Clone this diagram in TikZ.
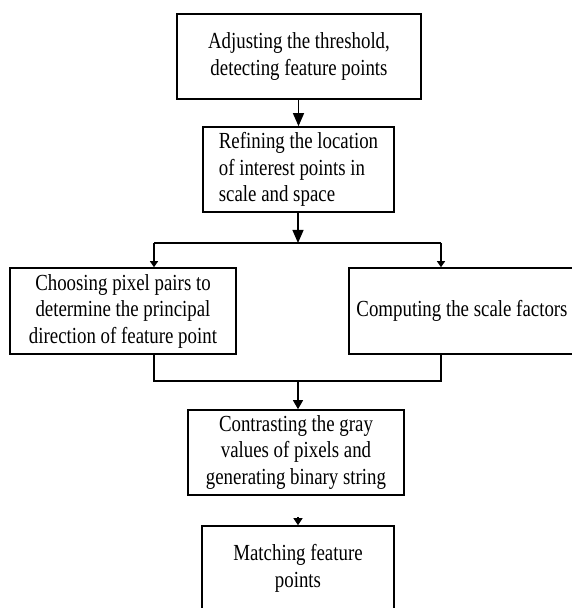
\documentclass[tikz,border=0pt]{standalone}
\usepackage{fontspec}
\setmainfont{Liberation Serif}[FakeStretch=0.82]
\usetikzlibrary{arrows.meta}

\begin{document}
\begin{tikzpicture}[x=1pt, y=1pt,
    box/.style={draw, line width=1.6pt, inner sep=0pt, align=center, font=\fontsize{23}{26.5}\selectfont},
    bigarr/.style={-{Triangle[width=11pt, length=13pt]}, line width=1.2pt},
    midarr/.style={-{Triangle[width=10pt, length=9pt]}, line width=1.2pt},
    smallarr/.style={-{Triangle[width=8pt, length=6pt]}, line width=1.2pt}]
    \useasboundingbox (0,0) rectangle (571,608);
    \node[box, minimum width=244pt, minimum height=85pt] (adjust) at (299,551.5) {Adjusting the threshold,\\detecting feature points};
    \node[box, align=left, minimum width=191pt, minimum height=85pt] (refine) at (298.5,438.5) {Refining the location\\of interest points in\\scale and space};
    \node[box, minimum width=226pt, minimum height=86pt] (choose) at (123,297) {Choosing pixel pairs to\\determine the principal\\direction of feature point};
    \node[box, minimum width=226pt, minimum height=86pt] (compute) at (462,297) {Computing the scale factors};
    \node[box, minimum width=216pt, minimum height=85pt] (contrast) at (296,155.5) {Contrasting the gray\\values of pixels and\\generating binary string};
    \node[box, minimum width=192pt, minimum height=85pt] (match) at (298,39.5) {Matching feature\\points};
    \coordinate (split) at (298,365);
    \coordinate (splitL) at (154,365);
    \coordinate (splitR) at (441,365);
    \coordinate (join) at (298,227);
    \coordinate (joinL) at (154,227);
    \coordinate (joinR) at (441,227);
    \draw[bigarr] (adjust.south -| refine.north) -- (refine.north);
    \draw[bigarr] (refine.south -| split) -- (split);
    \draw[line width=1.2pt] (splitL) -- (splitR);
    \draw[smallarr] (splitL) -- (splitL |- choose.north);
    \draw[smallarr] (splitR) -- (splitR |- compute.north);
    \draw[line width=1.2pt] (choose.south -| joinL) -- (joinL) -- (joinR) -- (compute.south -| joinR);
    \draw[midarr] (join) -- (join |- contrast.north);
    \draw[-{Triangle[width=9pt, length=7pt]}, line width=1.2pt, shorten <=21pt] (match.north |- contrast.south) -- (match.north);
\end{tikzpicture}
\end{document}
